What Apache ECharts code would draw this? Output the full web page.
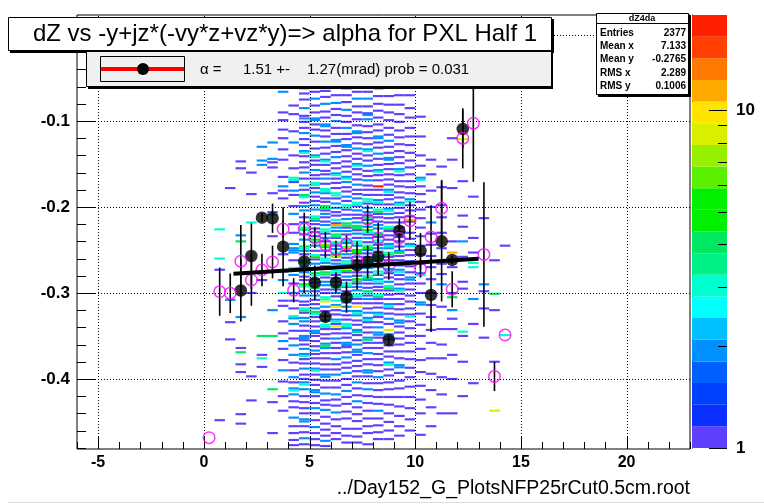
<!DOCTYPE html>
<html><head><meta charset="utf-8">
<script src="https://cdn.jsdelivr.net/npm/echarts@6/dist/echarts.min.js"></script>
<style>html,body{margin:0;padding:0;background:#fff}#c{width:764px;height:504px}</style>
</head><body><div id="c"></div>
<script>
// ---- axis ranges & ticks ----
const X_RANGE = [-6, 23];
const Y_RANGE = [-0.4815, 0.0233];
const xTickLabels = [-5, 0, 5, 10, 15, 20];
const yTickLabels = [-0.4, -0.3, -0.2, -0.1, 0];
const zMax = 19.1;
const zLevels = 20;
const paletteLabels = [1, 10];
const paletteColors = ['#6040ff','#0a30ff','#0040ff','#0060ff','#0090ff','#00c0ff','#00ffff','#00ffd0','#00f088','#00e860',
  '#00f000','#00f000','#5af000','#96f000','#d8f000','#ffe400','#ffa800','#ff7800','#ff4000','#ff2000'];
const binW = 0.5, binH = 0.0025;

// ---- black profile points ----
const profX = [1.75,2.25,2.75,3.25,3.75,4.75,5.25,5.75,6.25,6.75,7.25,7.75,8.25,8.75,9.25,10.25,10.75,11.25,11.75,12.25];
const profY = [-0.2971,-0.2570,-0.2124,-0.2131,-0.2462,-0.2634,-0.2880,-0.3279,-0.2878,-0.3050,-0.2680,-0.2640,-0.2581,-0.3547,-0.2276,-0.2512,-0.3023,-0.2399,-0.2616,-0.1093];
const profErr = [0.036,0.038,0.005,0.017,0.046,0.037,0.020,0.006,0.012,0.018,0.028,0.019,0.021,0.004,0.014,0.021,0.043,0.070,0.005,0.022];

// ---- magenta open points ----
const magX = [0.25,0.75,1.25,1.75,2.25,2.75,3.25,3.75,4.25,4.75,5.25,5.75,6.25,6.75,7.25,7.75,8.25,8.75,9.25,9.75,10.25,10.75,11.25,11.75,12.25,12.75,13.25,13.75,14.25];
const magY = [-0.4683,-0.2985,-0.3003,-0.2631,-0.2849,-0.2733,-0.2640,-0.2256,-0.2969,-0.2256,-0.2357,-0.2442,-0.2492,-0.2430,-0.2628,-0.2140,-0.2364,-0.2686,-0.2364,-0.2159,-0.2721,-0.2349,-0.2015,-0.2957,-0.1201,-0.1027,-0.2552,-0.3971,-0.3488];
const magErr = [0,0.028,0.023,0.042,0.030,0.019,0.019,0.010,0.014,0.019,0.012,0.015,0.010,0.010,0.010,0.016,0.018,0.016,0.014,0.022,0.010,0.037,0.033,0.021,0.035,0.068,0.084,0.017,0];

// ---- fit ----
const fitRange = [1.4, 13.0];
const fitIntercept = -0.2799;
const fitSlope = 0.00151;

// ---- 2D histogram cells: [x centre, y centre, count] ----
const histCellsA = [
 [0.75,-0.226,3],[0.75,-0.260,3],[0.75,-0.273,1],[0.75,-0.448,1],
 [1.25,-0.178,1],[1.25,-0.308,2],[1.25,-0.334,1],[1.25,-0.354,1],
 [1.75,-0.147,1],[1.75,-0.155,1],[1.75,-0.233,2],[1.75,-0.240,4],[1.75,-0.328,2],[1.75,-0.364,1],[1.75,-0.369,4],[1.75,-0.383,1],[1.75,-0.392,1],[1.75,-0.441,1],[1.75,-0.452,1],
 [2.25,-0.160,1],[2.25,-0.185,1],[2.25,-0.218,3],[2.25,-0.397,1],[2.25,-0.425,1],[2.25,-0.300,1],
 [2.75,-0.130,2],[2.75,-0.146,2],[2.75,-0.151,2],[2.75,-0.350,4],[2.75,-0.372,1],[2.75,-0.376,3],[2.75,-0.386,1],[2.75,-0.285,1],
 [3.25,-0.125,2],[3.25,-0.144,2],[3.25,-0.148,1],[3.25,-0.154,1],[3.25,-0.184,1],[3.25,-0.206,1],[3.25,-0.209,4],[3.25,-0.234,1],[3.25,-0.350,4],[3.25,-0.412,4],[3.25,-0.427,1],[3.25,-0.463,1],[3.25,-0.320,2],
 [3.75,-0.061,2],[3.75,-0.066,2],[3.75,-0.090,1],[3.75,-0.099,1],[3.75,-0.110,1],[3.75,-0.120,1],[3.75,-0.133,1],[3.75,-0.145,1],[3.75,-0.165,1],[3.75,-0.176,2],[3.75,-0.181,1],[3.75,-0.190,1],[3.75,-0.255,1],[3.75,-0.285,2],[3.75,-0.309,1],[3.75,-0.315,1],[3.75,-0.333,1],[3.75,-0.347,1],[3.75,-0.356,2],[3.75,-0.365,1],[3.75,-0.378,1],[3.75,-0.390,2],[3.75,-0.403,1],[3.75,-0.420,1],[3.75,-0.437,1],[3.75,-0.275,1],[3.75,-0.300,3],
 [4.25,-0.082,1],[4.25,-0.112,1],[4.25,-0.155,1],[4.25,-0.166,3],[4.25,-0.171,1],[4.25,-0.181,2],[4.25,-0.199,1],[4.25,-0.220,1],[4.25,-0.243,2],[4.25,-0.248,2],[4.25,-0.253,2],[4.25,-0.262,1],[4.25,-0.271,3],[4.25,-0.289,1],[4.25,-0.300,2],[4.25,-0.318,1],[4.25,-0.327,3],[4.25,-0.336,2],[4.25,-0.353,1],[4.25,-0.361,2],[4.25,-0.372,2],[4.25,-0.390,1],[4.25,-0.398,2],[4.25,-0.411,2],[4.25,-0.426,1],[4.25,-0.445,2],[4.25,-0.455,1],[4.25,-0.471,1],
 [4.75,-0.045,1],[4.75,-0.062,2],[4.75,-0.075,1],[4.75,-0.094,1],[4.75,-0.108,1],[4.75,-0.121,1],[4.75,-0.135,2],[4.75,-0.148,1],[4.75,-0.160,2],[4.75,-0.175,2],[4.75,-0.186,4],[4.75,-0.195,1],[4.75,-0.204,2],[4.75,-0.212,1],[4.75,-0.224,3],[4.75,-0.232,2],[4.75,-0.246,4],[4.75,-0.255,1],[4.75,-0.262,3],[4.75,-0.270,2],[4.75,-0.281,1],[4.75,-0.290,5],[4.75,-0.298,2],[4.75,-0.310,1],[4.75,-0.318,3],[4.75,-0.329,2],[4.75,-0.338,1],[4.75,-0.350,2],[4.75,-0.360,1],[4.75,-0.371,2],[4.75,-0.382,1],[4.75,-0.395,1],[4.75,-0.404,2],[4.75,-0.420,1],[4.75,-0.434,1],[4.75,-0.447,2],[4.75,-0.462,1],[4.75,-0.476,1],
 [5.25,-0.018,1],[5.25,-0.033,1],[5.25,-0.050,2],[5.25,-0.066,1],[5.25,-0.082,1],[5.25,-0.097,2],[5.25,-0.110,1],[5.25,-0.124,1],[5.25,-0.140,2],[5.25,-0.151,1],[5.25,-0.163,1],[5.25,-0.172,3],[5.25,-0.183,2],[5.25,-0.193,1],[5.25,-0.203,2],[5.25,-0.211,3],[5.25,-0.220,1],[5.25,-0.229,2],[5.25,-0.238,5],[5.25,-0.245,2],[5.25,-0.256,3],[5.25,-0.266,2],[5.25,-0.277,4],[5.25,-0.284,1],[5.25,-0.292,3],[5.25,-0.303,2],[5.25,-0.313,1],[5.25,-0.322,4],[5.25,-0.333,1],[5.25,-0.344,2],[5.25,-0.356,1],[5.25,-0.367,2],[5.25,-0.376,1],[5.25,-0.388,2],[5.25,-0.401,1],[5.25,-0.413,2],[5.25,-0.428,1],[5.25,-0.440,1],[5.25,-0.456,2],[5.25,-0.470,1],
 [5.75,-0.008,1],[5.75,-0.028,1],[5.75,-0.041,1],[5.75,-0.058,2],[5.75,-0.072,1],[5.75,-0.089,1],[5.75,-0.104,2],[5.75,-0.118,1],[5.75,-0.131,1],[5.75,-0.145,2],[5.75,-0.158,1],[5.75,-0.167,2],[5.75,-0.179,3],[5.75,-0.190,1],[5.75,-0.199,4],[5.75,-0.208,2],[5.75,-0.217,1],[5.75,-0.226,3],[5.75,-0.236,2],[5.75,-0.244,6],[5.75,-0.251,2],[5.75,-0.260,3],[5.75,-0.269,1],[5.75,-0.276,4],[5.75,-0.287,2],[5.75,-0.296,1],[5.75,-0.305,3],[5.75,-0.316,2],[5.75,-0.327,1],[5.75,-0.337,3],[5.75,-0.348,1],[5.75,-0.359,2],[5.75,-0.370,1],[5.75,-0.383,1],[5.75,-0.395,2],[5.75,-0.410,1],[5.75,-0.425,1],[5.75,-0.436,2],[5.75,-0.452,1],[5.75,-0.466,1],[5.75,-0.478,1],
 [6.25,-0.023,1],[6.25,-0.046,1],[6.25,-0.061,1],[6.25,-0.079,2],[6.25,-0.093,1],[6.25,-0.108,1],[6.25,-0.122,2],[6.25,-0.136,1],[6.25,-0.149,1],[6.25,-0.161,2],[6.25,-0.172,1],[6.25,-0.184,3],[6.25,-0.196,2],[6.25,-0.206,1],[6.25,-0.215,3],[6.25,-0.224,2],[6.25,-0.232,4],[6.25,-0.241,3],[6.25,-0.249,2],[6.25,-0.258,7],[6.25,-0.266,2],[6.25,-0.274,3],[6.25,-0.283,1],[6.25,-0.291,4],[6.25,-0.300,2],[6.25,-0.309,3],[6.25,-0.320,1],[6.25,-0.331,2],[6.25,-0.342,1],[6.25,-0.353,2],[6.25,-0.364,1],[6.25,-0.377,2],[6.25,-0.389,1],[6.25,-0.402,1],[6.25,-0.418,2],[6.25,-0.431,1],[6.25,-0.447,1],[6.25,-0.463,1],
 [6.75,-0.012,1],[6.75,-0.036,1],[6.75,-0.054,1],[6.75,-0.070,1],[6.75,-0.087,2],[6.75,-0.101,1],[6.75,-0.115,1],[6.75,-0.128,2],[6.75,-0.141,1],[6.75,-0.153,1],[6.75,-0.165,2],[6.75,-0.177,1],[6.75,-0.188,2],[6.75,-0.198,3],[6.75,-0.209,1],[6.75,-0.219,4],[6.75,-0.228,2],[6.75,-0.237,3],[6.75,-0.247,5],[6.75,-0.255,2],[6.75,-0.263,3],[6.75,-0.272,8],[6.75,-0.281,2],[6.75,-0.289,3],[6.75,-0.298,1],[6.75,-0.307,4],[6.75,-0.316,2],[6.75,-0.326,1],[6.75,-0.336,3],[6.75,-0.347,1],[6.75,-0.358,2],[6.75,-0.369,1],[6.75,-0.381,1],[6.75,-0.393,2],[6.75,-0.407,1],[6.75,-0.421,1],[6.75,-0.438,1],[6.75,-0.458,1],[6.75,-0.474,1],
 [7.25,-0.030,1],[7.25,-0.049,1],[7.25,-0.066,1],[7.25,-0.083,1],[7.25,-0.098,1],[7.25,-0.112,2],[7.25,-0.126,1],[7.25,-0.138,1],[7.25,-0.150,2],[7.25,-0.162,1],[7.25,-0.174,2],[7.25,-0.185,1],[7.25,-0.195,3],[7.25,-0.204,2],[7.25,-0.213,1],[7.25,-0.222,4],[7.25,-0.231,2],[7.25,-0.240,3],[7.25,-0.250,5],[7.25,-0.258,2],[7.25,-0.267,3],[7.25,-0.276,1],[7.25,-0.284,5],[7.25,-0.293,2],[7.25,-0.302,3],[7.25,-0.312,1],[7.25,-0.321,2],[7.25,-0.332,1],[7.25,-0.343,2],[7.25,-0.355,1],[7.25,-0.366,2],[7.25,-0.379,1],[7.25,-0.391,1],[7.25,-0.404,2],[7.25,-0.419,1],[7.25,-0.433,1],[7.25,-0.449,1],[7.25,-0.467,1],
 [7.75,-0.015,1],[7.75,-0.039,1],[7.75,-0.057,1],[7.75,-0.074,2],[7.75,-0.091,1],[7.75,-0.106,1],[7.75,-0.120,1],[7.75,-0.133,2],[7.75,-0.146,1],[7.75,-0.158,1],[7.75,-0.169,2],[7.75,-0.180,1],[7.75,-0.191,3],[7.75,-0.201,2],[7.75,-0.210,1],[7.75,-0.219,4],[7.75,-0.227,5],[7.75,-0.236,2],[7.75,-0.245,3],[7.75,-0.254,1],[7.75,-0.262,5],[7.75,-0.271,2],[7.75,-0.280,3],[7.75,-0.289,1],[7.75,-0.298,4],[7.75,-0.307,2],[7.75,-0.318,1],[7.75,-0.329,2],[7.75,-0.340,1],[7.75,-0.352,2],[7.75,-0.364,1],[7.75,-0.377,1],[7.75,-0.390,2],[7.75,-0.405,1],[7.75,-0.420,1],[7.75,-0.437,1],[7.75,-0.455,1],
 [8.25,-0.026,1],[8.25,-0.052,1],[8.25,-0.071,1],[8.25,-0.088,1],[8.25,-0.104,1],[8.25,-0.118,2],[8.25,-0.131,1],[8.25,-0.144,1],[8.25,-0.157,2],[8.25,-0.169,1],[8.25,-0.180,1],[8.25,-0.192,2],[8.25,-0.203,3],[8.25,-0.212,1],[8.25,-0.221,2],[8.25,-0.230,3],[8.25,-0.239,3],[8.25,-0.248,2],[8.25,-0.257,4],[8.25,-0.266,1],[8.25,-0.275,3],[8.25,-0.284,2],[8.25,-0.293,1],[8.25,-0.302,3],[8.25,-0.312,1],[8.25,-0.323,2],[8.25,-0.334,1],[8.25,-0.346,2],[8.25,-0.358,1],[8.25,-0.371,1],[8.25,-0.384,1],[8.25,-0.398,2],[8.25,-0.413,1],[8.25,-0.429,1],[8.25,-0.446,1],[8.25,-0.462,1],
 [8.75,-0.034,1],[8.75,-0.060,1],[8.75,-0.081,1],[8.75,-0.099,1],[8.75,-0.116,1],[8.75,-0.130,1],[8.75,-0.143,2],[8.75,-0.156,1],[8.75,-0.168,1],[8.75,-0.180,2],[8.75,-0.191,1],[8.75,-0.202,2],[8.75,-0.213,1],[8.75,-0.223,3],[8.75,-0.233,1],[8.75,-0.243,2],[8.75,-0.253,3],[8.75,-0.262,1],[8.75,-0.272,2],[8.75,-0.282,1],[8.75,-0.292,3],[8.75,-0.302,1],[8.75,-0.313,2],[8.75,-0.324,1],[8.75,-0.336,1],[8.75,-0.348,2],[8.75,-0.361,1],[8.75,-0.374,1],[8.75,-0.389,1],[8.75,-0.404,1],[8.75,-0.421,1],[8.75,-0.440,1],[8.75,-0.460,1],
 [9.25,-0.044,1],[9.25,-0.070,1],[9.25,-0.092,1],[9.25,-0.111,1],[9.25,-0.127,1],[9.25,-0.142,1],[9.25,-0.156,2],[9.25,-0.170,1],[9.25,-0.183,1],[9.25,-0.195,2],[9.25,-0.207,1],[9.25,-0.218,1],[9.25,-0.229,2],[9.25,-0.240,1],[9.25,-0.251,2],[9.25,-0.262,1],[9.25,-0.273,2],[9.25,-0.284,1],[9.25,-0.295,2],[9.25,-0.307,1],[9.25,-0.319,1],[9.25,-0.332,2],[9.25,-0.346,1],[9.25,-0.360,1],[9.25,-0.376,1],[9.25,-0.393,1],[9.25,-0.411,1],[9.25,-0.432,1],[9.25,-0.455,1],
 [9.75,-0.055,1],[9.75,-0.085,1],[9.75,-0.108,1],[9.75,-0.128,1],[9.75,-0.146,1],[9.75,-0.162,1],[9.75,-0.177,1],[9.75,-0.191,2],[9.75,-0.204,1],[9.75,-0.217,1],[9.75,-0.230,1],[9.75,-0.243,2],[9.75,-0.256,1],[9.75,-0.269,1],[9.75,-0.282,2],[9.75,-0.296,1],[9.75,-0.310,1],[9.75,-0.325,1],[9.75,-0.341,1],[9.75,-0.358,1],[9.75,-0.377,1],[9.75,-0.398,1],[9.75,-0.421,1],[9.75,-0.447,1],
 [10.25,-0.140,1],[10.25,-0.166,2],[10.25,-0.185,1],[10.25,-0.203,1],[10.25,-0.224,1],[10.25,-0.245,1],[10.25,-0.266,1],[10.25,-0.289,1],[10.25,-0.311,2],[10.25,-0.337,1],[10.25,-0.365,1],[10.25,-0.392,1],[10.25,-0.424,1],
 [10.75,-0.145,1],[10.75,-0.181,1],[10.75,-0.218,2],[10.75,-0.244,1],[10.75,-0.270,1],[10.75,-0.300,1],[10.75,-0.328,1],[10.75,-0.358,1],[10.75,-0.394,1],[10.75,-0.433,1],
 [11.25,-0.177,1],[11.25,-0.198,1],[11.25,-0.230,1],[11.25,-0.266,1],[11.25,-0.290,2],[11.25,-0.342,1],[11.25,-0.376,1],[11.25,-0.418,1],
 [11.75,-0.120,1],[11.75,-0.240,1],[11.75,-0.270,1],[11.75,-0.300,1],[11.75,-0.330,1],[11.75,-0.372,1],
 [12.25,-0.170,1],[12.25,-0.210,1],[12.25,-0.258,1],[12.25,-0.295,1],[12.25,-0.350,1],
 [12.75,-0.236,1],[12.75,-0.270,3],[12.75,-0.336,1],[12.75,-0.405,1],
 [13.25,-0.213,1],[13.25,-0.298,1],[13.25,-0.352,1],
 [13.75,-0.262,1],[13.75,-0.320,1],
 [14.25,-0.349,3],[14.25,-0.245,1]
];
const histCellsB = [
 [4.25,-0.092,1],[4.25,-0.125,2],[4.25,-0.140,1],[4.25,-0.186,1],[4.25,-0.208,2],[4.25,-0.230,1],[4.25,-0.279,2],[4.25,-0.309,1],[4.25,-0.344,1],[4.25,-0.381,1],[4.25,-0.404,1],[4.25,-0.418,2],[4.25,-0.433,1],[4.25,-0.463,1],[4.25,-0.477,1],
 [4.75,-0.055,1],[4.75,-0.068,1],[4.75,-0.085,2],[4.75,-0.101,1],[4.75,-0.114,2],[4.75,-0.128,1],[4.75,-0.141,1],[4.75,-0.154,1],[4.75,-0.167,1],[4.75,-0.180,1],[4.75,-0.199,2],[4.75,-0.218,1],[4.75,-0.238,2],[4.75,-0.251,2],[4.75,-0.276,2],[4.75,-0.285,1],[4.75,-0.303,2],[4.75,-0.314,1],[4.75,-0.323,1],[4.75,-0.333,2],[4.75,-0.344,1],[4.75,-0.355,1],[4.75,-0.365,2],[4.75,-0.377,1],[4.75,-0.388,2],[4.75,-0.400,1],[4.75,-0.412,2],[4.75,-0.427,1],[4.75,-0.440,1],[4.75,-0.455,1],[4.75,-0.469,2],
 [5.25,-0.042,1],[5.25,-0.058,1],[5.25,-0.074,2],[5.25,-0.090,1],[5.25,-0.104,1],[5.25,-0.117,2],[5.25,-0.132,1],[5.25,-0.146,1],[5.25,-0.157,2],[5.25,-0.167,1],[5.25,-0.178,1],[5.25,-0.188,1],[5.25,-0.198,2],[5.25,-0.216,2],[5.25,-0.225,1],[5.25,-0.234,1],[5.25,-0.251,1],[5.25,-0.261,1],[5.25,-0.271,2],[5.25,-0.288,1],[5.25,-0.298,1],[5.25,-0.308,1],[5.25,-0.318,2],[5.25,-0.328,1],[5.25,-0.339,1],[5.25,-0.350,1],[5.25,-0.362,1],[5.25,-0.371,1],[5.25,-0.382,1],[5.25,-0.395,1],[5.25,-0.407,1],[5.25,-0.420,1],[5.25,-0.434,2],[5.25,-0.448,1],[5.25,-0.463,1],[5.25,-0.477,1],
 [5.75,-0.050,1],[5.75,-0.065,1],[5.75,-0.080,2],[5.75,-0.096,1],[5.75,-0.111,1],[5.75,-0.124,2],[5.75,-0.138,1],[5.75,-0.151,1],[5.75,-0.162,1],[5.75,-0.173,1],[5.75,-0.184,2],[5.75,-0.194,1],[5.75,-0.204,1],[5.75,-0.212,1],[5.75,-0.221,2],[5.75,-0.231,1],[5.75,-0.240,1],[5.75,-0.256,1],[5.75,-0.265,2],[5.75,-0.272,1],[5.75,-0.282,1],[5.75,-0.291,2],[5.75,-0.300,1],[5.75,-0.310,10],[5.75,-0.321,1],[5.75,-0.332,2],[5.75,-0.342,1],[5.75,-0.353,1],[5.75,-0.364,2],[5.75,-0.376,1],[5.75,-0.389,1],[5.75,-0.402,1],[5.75,-0.417,2],[5.75,-0.430,1],[5.75,-0.444,1],[5.75,-0.459,1],[5.75,-0.472,2],
 [6.25,-0.035,1],[6.25,-0.054,1],[6.25,-0.070,1],[6.25,-0.086,1],[6.25,-0.100,2],[6.25,-0.115,1],[6.25,-0.129,1],[6.25,-0.142,2],[6.25,-0.155,1],[6.25,-0.167,1],[6.25,-0.178,1],[6.25,-0.190,1],[6.25,-0.201,2],[6.25,-0.210,1],[6.25,-0.219,1],[6.25,-0.228,2],[6.25,-0.236,1],[6.25,-0.245,1],[6.25,-0.253,3],[6.25,-0.262,1],[6.25,-0.270,2],[6.25,-0.279,1],[6.25,-0.287,2],[6.25,-0.296,1],[6.25,-0.304,1],[6.25,-0.314,2],[6.25,-0.325,1],[6.25,-0.336,1],[6.25,-0.347,1],[6.25,-0.358,1],[6.25,-0.370,1],[6.25,-0.383,1],[6.25,-0.395,2],[6.25,-0.410,1],[6.25,-0.424,1],[6.25,-0.439,2],[6.25,-0.455,1],[6.25,-0.470,1],
 [6.75,-0.045,1],[6.75,-0.062,1],[6.75,-0.078,1],[6.75,-0.094,1],[6.75,-0.108,2],[6.75,-0.121,1],[6.75,-0.134,1],[6.75,-0.147,1],[6.75,-0.159,1],[6.75,-0.171,2],[6.75,-0.182,1],[6.75,-0.193,1],[6.75,-0.203,1],[6.75,-0.214,2],[6.75,-0.224,1],[6.75,-0.232,1],[6.75,-0.242,2],[6.75,-0.251,1],[6.75,-0.259,1],[6.75,-0.267,2],[6.75,-0.276,1],[6.75,-0.285,1],[6.75,-0.293,2],[6.75,-0.302,1],[6.75,-0.311,1],[6.75,-0.321,2],[6.75,-0.331,1],[6.75,-0.341,2],[6.75,-0.352,1],[6.75,-0.363,1],[6.75,-0.375,2],[6.75,-0.387,1],[6.75,-0.400,1],[6.75,-0.414,2],[6.75,-0.429,1],[6.75,-0.446,1],[6.75,-0.466,1],
 [7.25,-0.040,1],[7.25,-0.057,1],[7.25,-0.074,2],[7.25,-0.090,1],[7.25,-0.105,1],[7.25,-0.119,1],[7.25,-0.132,2],[7.25,-0.144,1],[7.25,-0.156,1],[7.25,-0.168,1],[7.25,-0.180,1],[7.25,-0.190,2],[7.25,-0.199,1],[7.25,-0.209,1],[7.25,-0.218,2],[7.25,-0.227,1],[7.25,-0.236,1],[7.25,-0.245,2],[7.25,-0.254,1],[7.25,-0.262,1],[7.25,-0.271,2],[7.25,-0.280,1],[7.25,-0.289,1],[7.25,-0.297,2],[7.25,-0.307,1],[7.25,-0.316,10],[7.25,-0.326,2],[7.25,-0.337,1],[7.25,-0.349,1],[7.25,-0.360,2],[7.25,-0.372,1],[7.25,-0.385,1],[7.25,-0.397,1],[7.25,-0.411,1],[7.25,-0.426,2],[7.25,-0.441,1],[7.25,-0.458,1],[7.25,-0.474,1],
 [7.75,-0.027,1],[7.75,-0.048,1],[7.75,-0.066,1],[7.75,-0.083,1],[7.75,-0.098,2],[7.75,-0.113,1],[7.75,-0.127,1],[7.75,-0.140,1],[7.75,-0.152,2],[7.75,-0.164,1],[7.75,-0.175,1],[7.75,-0.186,1],[7.75,-0.196,1],[7.75,-0.206,2],[7.75,-0.215,1],[7.75,-0.223,2],[7.75,-0.232,1],[7.75,-0.241,1],[7.75,-0.250,2],[7.75,-0.258,1],[7.75,-0.267,1],[7.75,-0.276,1],[7.75,-0.285,2],[7.75,-0.294,1],[7.75,-0.303,1],[7.75,-0.312,1],[7.75,-0.323,2],[7.75,-0.334,1],[7.75,-0.346,1],[7.75,-0.358,1],[7.75,-0.370,2],[7.75,-0.383,1],[7.75,-0.397,1],[7.75,-0.412,2],[7.75,-0.428,1],[7.75,-0.446,1],[7.75,-0.463,1],[7.75,-0.476,1],
 [8.25,-0.039,1],[8.25,-0.062,1],[8.25,-0.080,1],[8.25,-0.096,1],[8.25,-0.111,1],[8.25,-0.125,1],[8.25,-0.138,2],[8.25,-0.151,1],[8.25,-0.163,1],[8.25,-0.176,17],[8.25,-0.186,1],[8.25,-0.197,1],[8.25,-0.208,1],[8.25,-0.217,1],[8.25,-0.225,2],[8.25,-0.235,1],[8.25,-0.244,1],[8.25,-0.252,1],[8.25,-0.262,2],[8.25,-0.270,1],[8.25,-0.279,1],[8.25,-0.289,2],[8.25,-0.297,1],[8.25,-0.307,1],[8.25,-0.317,1],[8.25,-0.328,1],[8.25,-0.340,2],[8.25,-0.352,1],[8.25,-0.364,1],[8.25,-0.377,1],[8.25,-0.391,1],[8.25,-0.405,1],[8.25,-0.421,1],[8.25,-0.437,2],[8.25,-0.454,1],[8.25,-0.470,1],
 [8.75,-0.047,1],[8.75,-0.071,1],[8.75,-0.090,1],[8.75,-0.108,1],[8.75,-0.123,2],[8.75,-0.137,1],[8.75,-0.150,1],[8.75,-0.162,1],[8.75,-0.174,1],[8.75,-0.186,1],[8.75,-0.197,1],[8.75,-0.208,2],[8.75,-0.218,1],[8.75,-0.228,1],[8.75,-0.238,1],[8.75,-0.248,2],[8.75,-0.258,1],[8.75,-0.267,1],[8.75,-0.277,1],[8.75,-0.287,2],[8.75,-0.297,1],[8.75,-0.307,1],[8.75,-0.318,1],[8.75,-0.330,2],[8.75,-0.343,8],[8.75,-0.354,1],[8.75,-0.368,1],[8.75,-0.381,2],[8.75,-0.396,1],[8.75,-0.412,1],[8.75,-0.430,1],[8.75,-0.450,1],[8.75,-0.470,1],
 [9.25,-0.057,1],[9.25,-0.081,1],[9.25,-0.101,1],[9.25,-0.119,1],[9.25,-0.135,1],[9.25,-0.149,1],[9.25,-0.163,1],[9.25,-0.176,1],[9.25,-0.189,1],[9.25,-0.201,1],[9.25,-0.212,1],[9.25,-0.224,1],[9.25,-0.235,1],[9.25,-0.246,1],[9.25,-0.257,1],[9.25,-0.268,1],[9.25,-0.279,1],[9.25,-0.290,1],[9.25,-0.301,1],[9.25,-0.313,1],[9.25,-0.325,1],[9.25,-0.339,1],[9.25,-0.353,1],[9.25,-0.368,1],[9.25,-0.384,2],[9.25,-0.402,1],[9.25,-0.421,1],[9.25,-0.443,1],[9.25,-0.466,1],
 [9.75,-0.070,1],[9.75,-0.096,1],[9.75,-0.118,1],[9.75,-0.137,1],[9.75,-0.154,1],[9.75,-0.170,1],[9.75,-0.184,1],[9.75,-0.198,1],[9.75,-0.211,1],[9.75,-0.215,11],[9.75,-0.237,1],[9.75,-0.250,1],[9.75,-0.263,1],[9.75,-0.276,1],[9.75,-0.289,1],[9.75,-0.303,1],[9.75,-0.318,1],[9.75,-0.333,1],[9.75,-0.350,1],[9.75,-0.368,1],[9.75,-0.387,1],[9.75,-0.409,1],[9.75,-0.434,1],[9.75,-0.460,1],
 [10.25,-0.095,1],[10.25,-0.118,1],[10.25,-0.152,1],[10.25,-0.176,1],[10.25,-0.194,1],[10.25,-0.213,1],[10.25,-0.234,1],[10.25,-0.255,1],[10.25,-0.277,2],[10.25,-0.300,1],[10.25,-0.324,1],[10.25,-0.350,1],[10.25,-0.378,1],[10.25,-0.408,1],[10.25,-0.440,1],[10.25,-0.465,1],
 [10.75,-0.162,1],[10.75,-0.200,1],[10.75,-0.231,1],[10.75,-0.257,1],[10.75,-0.284,1],[10.75,-0.314,1],[10.75,-0.343,1],[10.75,-0.376,1],[10.75,-0.413,1],[10.75,-0.455,1],
 [11.25,-0.153,1],[11.25,-0.212,1],[11.25,-0.248,1],[11.25,-0.278,1],[11.25,-0.316,1],[11.25,-0.360,1],[11.25,-0.398,1],[11.25,-0.440,1],
 [11.75,-0.145,1],[11.75,-0.178,1],[11.75,-0.253,11],[11.75,-0.305,4],[11.75,-0.320,2],[11.75,-0.342,1],[11.75,-0.400,1],[11.75,-0.440,1],
 [12.25,-0.121,9],[12.25,-0.223,1],[12.25,-0.240,2],[12.25,-0.287,1],[12.25,-0.345,3],[12.25,-0.380,1],[12.25,-0.420,1],
 [12.75,-0.188,1],[12.75,-0.253,1],[12.75,-0.265,3],[12.75,-0.307,2],
 [13.25,-0.290,2],[13.25,-0.318,1],
 [13.75,-0.301,4],[13.75,-0.380,1],[13.75,-0.437,8]
];
const histCellsC = [
 [4.25,-0.1685,3],[4.25,-0.2505,2],[4.25,-0.2735,4],[4.25,-0.3295,2],[4.25,-0.4135,3],
 [4.75,-0.1885,3],[4.75,-0.2265,4],[4.75,-0.2485,3],[4.75,-0.2645,5],[4.75,-0.2925,3],[4.75,-0.3205,4],[4.75,-0.3525,2],[4.75,-0.3735,3],[4.75,-0.4065,3],[4.75,-0.4495,2],[4.75,-0.137,3],[4.75,-0.097,2],
 [5.25,-0.1745,3],[5.25,-0.2135,4],[5.25,-0.2405,3],[5.25,-0.2585,5],[5.25,-0.2795,3],[5.25,-0.2945,4],[5.25,-0.3245,3],[5.25,-0.3465,2],[5.25,-0.3905,3],[5.25,-0.4155,2],[5.25,-0.142,3],[5.25,-0.099,2],
 [5.75,-0.1815,3],[5.75,-0.2015,4],[5.75,-0.2285,3],[5.75,-0.2465,5],[5.75,-0.2625,3],[5.75,-0.2785,4],[5.75,-0.3075,3],[5.75,-0.3395,3],[5.75,-0.3615,4],[5.75,-0.3975,2],[5.75,-0.147,3],[5.75,-0.106,2],
 [6.25,-0.1865,3],[6.25,-0.221,12],[6.25,-0.2345,4],[6.25,-0.2435,3],[6.25,-0.2555,5],[6.25,-0.2765,3],[6.25,-0.2935,4],[6.25,-0.316,9],[6.25,-0.3335,3],[6.25,-0.339,9],[6.25,-0.163,3],[6.25,-0.124,2],
 [6.75,-0.2005,3],[6.75,-0.2215,4],[6.75,-0.2395,3],[6.75,-0.248,10],[6.75,-0.2655,3],[6.75,-0.2745,5],[6.75,-0.2915,3],[6.75,-0.3095,4],[6.75,-0.3385,3],[6.75,-0.3605,2],[6.75,-0.167,3],[6.75,-0.130,2],
 [7.25,-0.1975,3],[7.25,-0.2245,4],[7.25,-0.2425,3],[7.25,-0.2525,5],[7.25,-0.2695,3],[7.25,-0.2865,4],[7.25,-0.3045,3],[7.25,-0.3235,3],[7.25,-0.3455,4],[7.25,-0.3685,2],[7.25,-0.152,3],[7.25,-0.114,2],
 [7.75,-0.1935,3],[7.75,-0.2125,4],[7.75,-0.2295,3],[7.75,-0.2475,5],[7.75,-0.2645,3],[7.75,-0.2825,4],[7.75,-0.3005,3],[7.75,-0.3315,3],[7.75,-0.3545,4],[7.75,-0.3925,2],[7.75,-0.135,3],[7.75,-0.093,2],
 [8.25,-0.1945,3],[8.25,-0.2055,4],[8.25,-0.2325,5],[8.25,-0.2415,3],[8.25,-0.2595,4],[8.25,-0.2775,3],[8.25,-0.2865,3],[8.25,-0.3045,4],[8.25,-0.3255,3],[8.25,-0.3485,2],[8.25,-0.159,3],[8.25,-0.120,2],
 [8.75,-0.1825,3],[8.75,-0.2045,3],[8.75,-0.2255,4],[8.75,-0.2455,3],[8.75,-0.2555,4],[8.75,-0.2745,3],[8.75,-0.2945,4],[8.75,-0.3155,3],[8.75,-0.3505,2],[8.75,-0.3835,3],[8.75,-0.145,2],
 [9.25,-0.1975,3],[9.25,-0.2315,3],[9.25,-0.2535,4],[9.25,-0.2755,3],[9.25,-0.2975,3],[9.25,-0.3345,2],[9.25,-0.1585,3],[9.25,-0.3865,2],
 [9.75,-0.1935,3],[9.75,-0.2455,3],[9.75,-0.2845,2],[9.75,-0.3275,3],
 [10.25,-0.1685,3],[10.25,-0.2795,3],[10.25,-0.3135,2]
];
const histCells = histCellsA.concat(histCellsB, histCellsC);

// ---- stats box ----
const statsTitle = 'dZ4da';
const statsNames = ['Entries','Mean x','Mean y','RMS x','RMS y'];
const statsValues = ['2377','7.133','-0.2765','2.289','0.1006'];

const FONT = '"Liberation Sans", Arial, sans-serif';

function colorFor(n) {
  let b = Math.floor(zLevels * Math.log(n) / Math.log(zMax));
  b = Math.max(0, Math.min(zLevels - 1, b));
  return paletteColors[b];
}

const xMinor = [], yMinor = [];
for (let v = X_RANGE[0]; v <= X_RANGE[1]; v += 1) if (v % 5 !== 0) xMinor.push(v);
for (let k = -24; k <= 1; k++) { const v = k * 0.02; if (k % 5 !== 0) yMinor.push(+v.toFixed(2)); }
const palMinor = [2,3,4,5,6,7,8,9];

const chart = echarts.init(document.getElementById('c'), null, {renderer: 'canvas'});
const dotted = {stroke: '#000', lineWidth: 1, lineDash: [1, 2]};

const option = {
  animation: false,
  backgroundColor: '#fff',
  grid: [
    {left: 77, top: 15, width: 613, height: 434, show: true, borderColor: '#000', borderWidth: 1, backgroundColor: 'transparent', z: 0},
    {left: 692, top: 15, width: 35, height: 433, show: false}
  ],
  xAxis: [
    {type: 'value', gridIndex: 0, min: X_RANGE[0], max: X_RANGE[1], axisLine: {show: false}, axisTick: {show: false}, axisLabel: {show: false}, splitLine: {show: false}},
    {type: 'value', gridIndex: 1, min: 0, max: 1, show: false}
  ],
  yAxis: [
    {type: 'value', gridIndex: 0, min: Y_RANGE[0], max: Y_RANGE[1], axisLine: {show: false}, axisTick: {show: false}, axisLabel: {show: false}, splitLine: {show: false}},
    {type: 'log', gridIndex: 1, min: 1, max: zMax, logBase: 10, position: 'right',
     axisLine: {show: true, lineStyle: {color: '#000', width: 1}}, axisTick: {show: false}, axisLabel: {show: false}, splitLine: {show: false}}
  ],
  series: [
    {
      type: 'custom', name: 'hist', xAxisIndex: 0, yAxisIndex: 0, z: 1, silent: true, clip: true,
      data: histCells,
      renderItem(params, api) {
        const x = api.value(0), y = api.value(1), n = api.value(2);
        const p0 = api.coord([x - binW / 2, y + binH / 2]);
        const p1 = api.coord([x + binW / 2, y - binH / 2]);
        return {type: 'rect', shape: {x: p0[0], y: p0[1], width: p1[0] - p0[0], height: p1[1] - p0[1]},
          style: {fill: colorFor(n)}};
      }
    },
    {
      type: 'custom', xAxisIndex: 0, yAxisIndex: 0, z: 2, silent: true,
      data: xTickLabels.map(v => [v, Y_RANGE[0]]),
      renderItem(params, api) {
        const a = api.coord([api.value(0), Y_RANGE[0]]), b = api.coord([api.value(0), Y_RANGE[1]]);
        const x = Math.round(a[0]) + 0.5;
        return {type: 'group', children: [
          {type: 'line', shape: {x1: x, y1: a[1], x2: x, y2: b[1]}, style: dotted},
          {type: 'line', shape: {x1: x, y1: a[1], x2: x, y2: a[1] - 13}, style: {stroke: '#000', lineWidth: 1}},
          {type: 'text', x: a[0], y: a[1] + 14, style: {text: String(api.value(0)), font: 'bold 16px ' + FONT, fill: '#000', align: 'center', verticalAlign: 'middle'}}
        ]};
      }
    },
    {
      type: 'custom', xAxisIndex: 0, yAxisIndex: 0, z: 2, silent: true,
      data: yTickLabels.map(v => [X_RANGE[0], v]),
      renderItem(params, api) {
        const v = api.value(1);
        const a = api.coord([X_RANGE[0], v]), b = api.coord([X_RANGE[1], v]);
        const y = Math.round(a[1]) + 0.5;
        return {type: 'group', children: [
          {type: 'line', shape: {x1: a[0], y1: y, x2: b[0], y2: y}, style: dotted},
          {type: 'line', shape: {x1: a[0], y1: y, x2: a[0] + 18, y2: y}, style: {stroke: '#000', lineWidth: 1}},
          {type: 'text', x: a[0] - 7, y: a[1], style: {text: String(v), font: 'bold 17px ' + FONT, fill: '#000', align: 'right', verticalAlign: 'middle'}}
        ]};
      }
    },
    {
      type: 'custom', xAxisIndex: 0, yAxisIndex: 0, z: 2, silent: true,
      data: xMinor.map(v => [v, Y_RANGE[0]]),
      renderItem(params, api) {
        const a = api.coord([api.value(0), Y_RANGE[0]]);
        const x = Math.round(a[0]) + 0.5;
        return {type: 'line', shape: {x1: x, y1: a[1], x2: x, y2: a[1] - 7}, style: {stroke: '#000', lineWidth: 1}};
      }
    },
    {
      type: 'custom', xAxisIndex: 0, yAxisIndex: 0, z: 2, silent: true,
      data: yMinor.map(v => [X_RANGE[0], v]),
      renderItem(params, api) {
        const a = api.coord([X_RANGE[0], api.value(1)]);
        const y = Math.round(a[1]) + 0.5;
        return {type: 'line', shape: {x1: a[0], y1: y, x2: a[0] + 9, y2: y}, style: {stroke: '#000', lineWidth: 1}};
      }
    },
    {
      type: 'custom', xAxisIndex: 0, yAxisIndex: 0, z: 4, silent: true,
      data: profX.map((x, i) => [x, profY[i], profErr[i]]),
      renderItem(params, api) {
        const x = api.value(0), y = api.value(1), e = api.value(2);
        const a = api.coord([x, y - e]), b = api.coord([x, y + e]);
        return {type: 'line', shape: {x1: a[0], y1: a[1], x2: b[0], y2: b[1]}, style: {stroke: '#000', lineWidth: 1.6}};
      }
    },
    {
      type: 'custom', xAxisIndex: 0, yAxisIndex: 0, z: 4, silent: true,
      data: magX.map((x, i) => [x, magY[i], magErr[i]]),
      renderItem(params, api) {
        const x = api.value(0), y = api.value(1), e = api.value(2);
        const a = api.coord([x, y - e]), b = api.coord([x, y + e]);
        return {type: 'line', shape: {x1: a[0], y1: a[1], x2: b[0], y2: b[1]}, style: {stroke: '#000', lineWidth: 1.6}};
      }
    },
    {
      type: 'scatter', xAxisIndex: 0, yAxisIndex: 0, z: 5, silent: true,
      symbol: 'circle', symbolSize: 12.5,
      itemStyle: {color: '#000'},
      data: profX.map((x, i) => [x, profY[i]])
    },
    {
      type: 'scatter', xAxisIndex: 0, yAxisIndex: 0, z: 5, silent: true,
      symbol: 'circle', symbolSize: 11.5,
      itemStyle: {color: 'rgba(255,255,255,0)', borderColor: '#ff00ff', borderWidth: 1.5},
      data: magX.map((x, i) => [x, magY[i]])
    },
    {
      type: 'line', xAxisIndex: 0, yAxisIndex: 0, z: 6, silent: true, symbol: 'none',
      lineStyle: {color: '#000', width: 4},
      data: fitRange.map(x => [x, fitIntercept + fitSlope * x])
    },
    {
      type: 'custom', xAxisIndex: 1, yAxisIndex: 1, z: 1, silent: true,
      data: paletteColors.map((c, i) => [0.5, Math.pow(zMax, i / zLevels), Math.pow(zMax, (i + 1) / zLevels), i]),
      renderItem(params, api) {
        const lo = api.coord([0, api.value(1)]), hi = api.coord([1, api.value(2)]);
        return {type: 'rect', shape: {x: lo[0], y: hi[1], width: hi[0] - lo[0], height: lo[1] - hi[1]},
          style: {fill: paletteColors[api.value(3)]}};
      }
    },
    {
      type: 'custom', xAxisIndex: 1, yAxisIndex: 1, z: 3, silent: true,
      data: palMinor.map(v => [1, v, 0]).concat(paletteLabels.map(v => [1, v, 1])),
      renderItem(params, api) {
        const v = api.value(1), major = api.value(2);
        const a = api.coord([1, v]);
        const y = Math.round(a[1]) + 0.5;
        const ch = [{type: 'line', shape: {x1: a[0], y1: y, x2: a[0] - (major ? 18 : 9), y2: y}, style: {stroke: '#000', lineWidth: 1}}];
        if (major) ch.push({type: 'text', x: a[0] + 9, y: a[1], style: {text: String(v), font: 'bold 17px ' + FONT, fill: '#000', align: 'left', verticalAlign: 'middle'}});
        return {type: 'group', children: ch};
      }
    }
  ],
  graphic: [
    {type: 'rect', shape: {x: 10, y: 19, width: 544, height: 34}, style: {fill: '#000'}, z: 100},
    {type: 'rect', shape: {x: 8.5, y: 17.5, width: 543, height: 33}, style: {fill: '#fff', stroke: '#000', lineWidth: 1}, z: 101},
    {type: 'text', x: 285, y: 34, style: {text: 'dZ vs -y+jz*(-vy*z+vz*y)=> alpha for PXL Half 1', font: '24px ' + FONT, fill: '#000', align: 'center', verticalAlign: 'middle'}, z: 102},
    {type: 'rect', shape: {x: 88, y: 53, width: 465, height: 36}, style: {fill: '#000'}, z: 100},
    {type: 'rect', shape: {x: 86.5, y: 51.5, width: 465, height: 35}, style: {fill: '#f0f0f0', stroke: '#000', lineWidth: 1}, z: 101},
    {type: 'rect', shape: {x: 100.5, y: 56.5, width: 84, height: 25}, style: {fill: '#f0f0f0', stroke: '#000', lineWidth: 1}, z: 102},
    {type: 'line', shape: {x1: 101, y1: 69, x2: 184, y2: 69}, style: {stroke: '#ff0000', lineWidth: 4}, z: 103},
    {type: 'circle', shape: {cx: 143, cy: 69, r: 6}, style: {fill: '#000'}, z: 104},
    {type: 'text', x: 200, y: 70, style: {text: 'α =', font: '15px ' + FONT, fill: '#000', verticalAlign: 'middle'}, z: 103},
    {type: 'text', x: 243, y: 70, style: {text: '1.51 +-', font: '15px ' + FONT, fill: '#000', verticalAlign: 'middle'}, z: 103},
    {type: 'text', x: 307, y: 70, style: {text: '1.27(mrad) prob = 0.031', font: '15px ' + FONT, fill: '#000', verticalAlign: 'middle'}, z: 103},
    {type: 'rect', shape: {x: 598, y: 15, width: 93, height: 82}, style: {fill: '#000'}, z: 100},
    {type: 'rect', shape: {x: 596.5, y: 13.5, width: 92, height: 81}, style: {fill: '#fff', stroke: '#000', lineWidth: 1}, z: 101},
    {type: 'line', shape: {x1: 596.5, y1: 23.5, x2: 688.5, y2: 23.5}, style: {stroke: '#000', lineWidth: 1}, z: 102},
    {type: 'text', x: 642, y: 19, style: {text: statsTitle, font: 'bold 9px ' + FONT, fill: '#000', align: 'center', verticalAlign: 'middle'}, z: 102},
    ...statsNames.map((s, i) => ({type: 'text', x: 600, y: 33 + i * 13.3, style: {text: s, font: 'bold 10px ' + FONT, fill: '#000', verticalAlign: 'middle'}, z: 102})),
    ...statsValues.map((s, i) => ({type: 'text', x: 686, y: 33 + i * 13.3, style: {text: s, font: 'bold 10px ' + FONT, fill: '#000', align: 'right', verticalAlign: 'middle'}, z: 102})),
    {type: 'text', x: 690, y: 489, style: {text: '../Day152_G_PlotsNFP25rCut0.5cm.root', font: '19.5px ' + FONT, fill: '#000', align: 'right', verticalAlign: 'middle'}, z: 102},
    {type: 'line', shape: {x1: 8, y1: 502.5, x2: 764, y2: 502.5}, style: {stroke: '#dddddd', lineWidth: 1}, z: 100}
  ]
};
chart.setOption(option);
</script>
</body></html>
